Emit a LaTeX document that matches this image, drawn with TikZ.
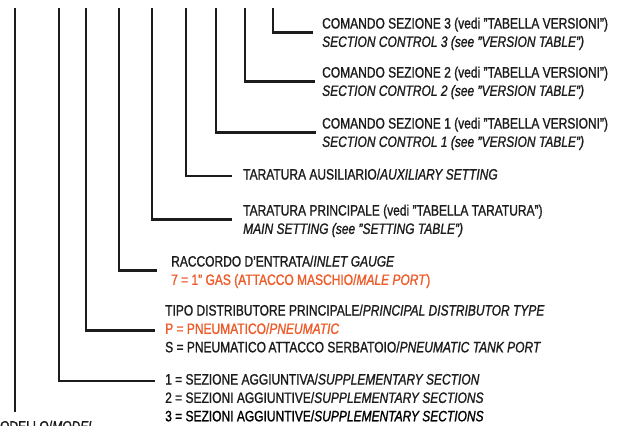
\documentclass[tikz,border=0pt]{standalone}
\usepackage{fontspec}
\setmainfont{Liberation Sans}[FakeStretch=0.80, FakeBold=1.2]
\usetikzlibrary{positioning}
\definecolor{ink}{HTML}{1C1C1C}
\definecolor{codered}{HTML}{EE5A28}
\begin{document}
\begin{tikzpicture}[x=1pt, y=-1pt, node distance=4pt,
  lbl/.style={anchor=west, inner sep=0pt, text=ink, text height=10.5pt, text depth=3.5pt, font=\fontsize{15}{18}\selectfont},
  redlbl/.style={lbl, text=codered},
  lead/.style={draw=ink, line width=2.6pt}]
\useasboundingbox (0,0) rectangle (619,426);
\clip (0,0) rectangle (619,426);
% tops of the leader lines
\coordinate (v1) at (15,8);
\coordinate (v2) at (59,8);
\coordinate (v3) at (86,8);
\coordinate (v4) at (119,8);
\coordinate (v5) at (152,8);
\coordinate (v6) at (186,8);
\coordinate (v7) at (216,8);
\coordinate (v8) at (245,8);
\coordinate (v9) at (273,8);
% labels
\node[lbl] (sc3a) at (322,25) {COMANDO SEZIONE 3 (vedi "TABELLA VERSIONI”)};
\node[lbl, below=of sc3a.south west, anchor=north west] (sc3b) {\itshape SECTION CONTROL 3 (see "VERSION TABLE”)};
\node[lbl] (sc2a) at (322,74) {COMANDO SEZIONE 2 (vedi "TABELLA VERSIONI”)};
\node[lbl, below=of sc2a.south west, anchor=north west] (sc2b) {\itshape SECTION CONTROL 2 (see "VERSION TABLE”)};
\node[lbl] (sc1a) at (322,125) {COMANDO SEZIONE 1 (vedi "TABELLA VERSIONI”)};
\node[lbl, below=of sc1a.south west, anchor=north west] (sc1b) {\itshape SECTION CONTROL 1 (see "VERSION TABLE”)};
\node[lbl] (aux) at (243,176) {TARATURA AUSILIARIO/\textit{AUXILIARY SETTING}};
\node[lbl] (maina) at (243,212) {TARATURA PRINCIPALE (vedi "TABELLA TARATURA”)};
\node[lbl, below=of maina.south west, anchor=north west] (mainb) {\itshape MAIN SETTING (see "SETTING TABLE”)};
\node[lbl] (inleta) at (171,263) {RACCORDO D'ENTRATA/\textit{INLET GAUGE}};
\node[redlbl, below=of inleta.south west, anchor=north west] (inletb) {7 = 1” GAS (ATTACCO MASCHIO/\textit{MALE PORT})};
\node[lbl] (typea) at (165,312) {TIPO DISTRIBUTORE PRINCIPALE/\textit{PRINCIPAL DISTRIBUTOR TYPE}};
\node[redlbl, below=of typea.south west, anchor=north west] (typeb) {P = PNEUMATICO/\textit{PNEUMATIC}};
\node[lbl, below=of typeb.south west, anchor=north west] (typec) {S = PNEUMATICO\,ATTACCO SERBATOIO/\textit{PNEUMATIC TANK PORT}};
\node[lbl] (supa) at (165,381) {1 = SEZIONE AGGIUNTIVA/\textit{SUPPLEMENTARY SECTION}};
\node[lbl, below=of supa.south west, anchor=north west] (supb) {2 = SEZIONI AGGIUNTIVE/\textit{SUPPLEMENTARY SECTIONS}};
\node[lbl, below=of supb.south west, anchor=north west, text=black] (supc) {3 = SEZIONI AGGIUNTIVE/\textit{SUPPLEMENTARY SECTIONS}};
\node[lbl] (model) at (-10,428) {MODELLO/\textit{MODEL}};
% leaders
\draw[lead] (v9) |- ([xshift=-9pt]sc3a.south west);
\draw[lead] (v8) |- ([xshift=-7pt]sc2a.south west);
\draw[lead] (v7) |- ([xshift=-6pt]sc1a.south west);
\draw[lead] (v6) |- ([xshift=-11pt]aux.west);
\draw[lead] (v5) |- ([xshift=-11pt]maina.south west);
\draw[lead] (v4) |- ([xshift=-14pt]inleta.south west);
\draw[lead] (v3) |- ([xshift=-10pt]typeb.west);
\draw[lead] (v2) |- ([xshift=-10pt]supa.west);
\draw[lead] (v1) -- (v1 |- {(0,412)});
\end{tikzpicture}
\end{document}
